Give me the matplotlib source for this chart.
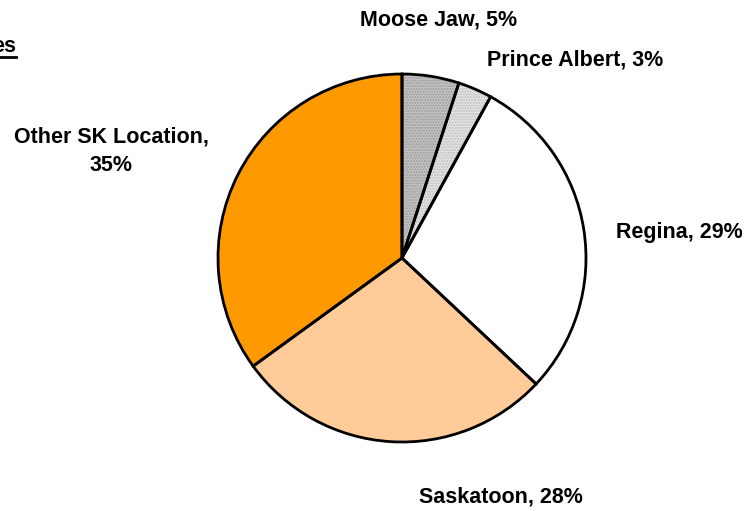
import matplotlib.pyplot as plt
from matplotlib.lines import Line2D

plt.rcParams['font.family'] = ['Liberation Sans', 'DejaVu Sans']

cities = ["Moose Jaw", "Prince Albert", "Regina", "Saskatoon", "Other SK Location"]
shares = [5, 3, 29, 28, 35]
colors = ["#c4c4c4", "#e4e4e4", "#ffffff", "#ffcc99", "#ff9900"]
hatches = ["......", "......", "", "", ""]
hatch_colors = ["#9a9a9a", "#bdbdbd", "white", "white", "white"]

fig = plt.figure(figsize=(7.46, 5.11), dpi=100)
ax = fig.add_axes([(402 - 184) / 746, (511 - 258 - 184) / 511, 368 / 746, 368 / 511])

# fill + texture first, then black outlines on top
wedges, _ = ax.pie(shares, colors=colors, startangle=90, counterclock=False,
                   wedgeprops=dict(linewidth=0))
for w, h, hc in zip(wedges, hatches, hatch_colors):
    w.set_hatch(h)
    w.set_edgecolor(hc)
ax.pie(shares, startangle=90, counterclock=False,
       wedgeprops=dict(fill=False, edgecolor="black", linewidth=2))

label_pos = [(0.196, 1.293), (0.94, 1.076), (1.51, 0.136), (0.54, -1.30), (-1.58, 0.58)]
for name, val, (x, y) in zip(cities, shares, label_pos):
    if name == "Other SK Location":
        txt = f"{name},\n{val}%"
    else:
        txt = f"{name}, {val}%"
    ax.text(x, y, txt, ha="center", va="center", fontsize=15.5, fontweight="bold",
            linespacing=1.45)

ax.set_xlim(-1, 1)
ax.set_ylim(-1, 1)
ax.set_aspect("equal")
ax.axis("off")

# clipped, underlined title fragment at top-left (cut off in the original too)
fig.text(16 / 746, 1 - 52 / 511, "es", ha="right", va="baseline", fontsize=15.5, fontweight="bold")
fig.add_artist(Line2D([0, 16 / 746], [1 - 57 / 511, 1 - 57 / 511], color="black", linewidth=2,
                      transform=fig.transFigure))

fig.savefig("out.png", dpi=100)
